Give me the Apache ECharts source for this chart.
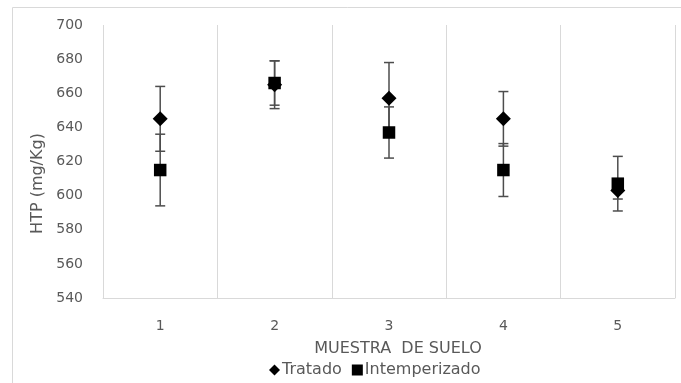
<!DOCTYPE html>
<html>
<head>
<meta charset="utf-8">
<script src="https://cdn.jsdelivr.net/npm/echarts@6/dist/echarts.min.js"></script>
<style>
  html, body { margin: 0; padding: 0; background: #fff; }
  #chart { width: 681px; height: 383px; }
</style>
</head>
<body>
<div id="chart"></div>
<script>
  // muestras de suelo
  const muestras = ['1', '2', '3', '4', '5']
  // HTP (mg/Kg) y desviacion
  const tratado = [645, 665, 657, 645, 603]
  const tratadoErr = [19, 14, 21, 16, 5]
  const intemperizado = [615, 666, 637, 615, 607]
  const intemperizadoErr = [21, 13, 15, 15.5, 16]

  const gris = '#595959'
  const fuente = '"DejaVu Sans", sans-serif'

  function barData(vals, errs) {
    let temp = []
    for (let i = 0; i < vals.length; i++) {
      temp.push([i, vals[i] - errs[i], vals[i] + errs[i]])
    }
    return temp
  }

  function renderErr(params, api) {
    const x = api.value(0)
    const lo = api.coord([x, api.value(1)])
    const hi = api.coord([x, api.value(2)])
    const w = 5
    const style = { stroke: '#4d4d4d', lineWidth: 1.5 }
    return {
      type: 'group',
      children: [
        { type: 'line', shape: { x1: hi[0], y1: hi[1], x2: lo[0], y2: lo[1] }, style: style },
        { type: 'line', shape: { x1: hi[0] - w, y1: hi[1], x2: hi[0] + w, y2: hi[1] }, style: style },
        { type: 'line', shape: { x1: lo[0] - w, y1: lo[1], x2: lo[0] + w, y2: lo[1] }, style: style }
      ]
    }
  }

  const chart = echarts.init(document.getElementById('chart'))
  chart.setOption({
    animation: false,
    textStyle: { fontFamily: fuente },
    graphic: [{
      type: 'rect',
      shape: { x: 12.5, y: 7.5, width: 700, height: 400 },
      style: { fill: 'none', stroke: '#d9d9d9', lineWidth: 1 },
      silent: true
    }],
    grid: { left: 103, right: 6, top: 25, bottom: 85 },
    legend: {
      top: 357,
      left: 264,
      itemGap: 10,
      itemWidth: 11,
      itemHeight: 11,
      textStyle: { color: gris, fontSize: 16, fontFamily: fuente, padding: [0, 0, 0, -3] },
      data: [
        { name: 'Tratado', icon: 'diamond', itemStyle: { color: '#000', opacity: 1 } },
        { name: 'Intemperizado', icon: 'rect', itemStyle: { color: '#000', opacity: 1 } }
      ]
    },
    xAxis: {
      type: 'category',
      data: muestras,
      name: 'MUESTRA  DE SUELO',
      nameLocation: 'middle',
      nameGap: 43,
      nameTextStyle: { color: gris, fontSize: 16, padding: [0, 0, 0, 18] },
      axisLine: { lineStyle: { color: '#d9d9d9' } },
      axisTick: { show: false },
      axisLabel: { color: gris, fontSize: 14, margin: 21 },
      splitLine: { show: true, lineStyle: { color: '#d9d9d9' } }
    },
    yAxis: {
      type: 'value',
      min: 540,
      max: 700,
      interval: 20,
      name: 'HTP (mg/Kg)',
      nameLocation: 'middle',
      nameGap: 51,
      nameTextStyle: { color: gris, fontSize: 16, padding: [0, 44, 0, 0] },
      axisLine: { show: false },
      axisTick: { show: false },
      axisLabel: { color: gris, fontSize: 14, margin: 20 },
      splitLine: { show: false }
    },
    series: [
      {
        name: 'errTratado',
        type: 'custom',
        renderItem: renderErr,
        data: barData(tratado, tratadoErr),
        z: 1
      },
      {
        name: 'errIntemperizado',
        type: 'custom',
        renderItem: renderErr,
        data: barData(intemperizado, intemperizadoErr),
        z: 1
      },
      {
        name: 'Tratado',
        type: 'scatter',
        symbol: 'diamond',
        symbolSize: 15,
        itemStyle: { color: '#000', opacity: 1 },
        data: tratado,
        z: 3
      },
      {
        name: 'Intemperizado',
        type: 'scatter',
        symbol: 'rect',
        symbolSize: 12.5,
        itemStyle: { color: '#000', opacity: 1 },
        data: intemperizado,
        z: 4
      }
    ]
  })
</script>
</body>
</html>
